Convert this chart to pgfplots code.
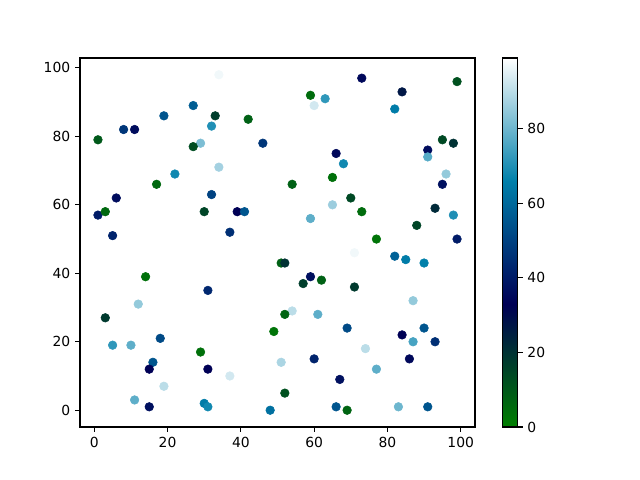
\documentclass[border=0pt]{standalone}
\usepackage{fontspec}
\setmainfont{DejaVu Sans}
\usepackage{pgfplots}
\pgfplotsset{compat=1.18}
\begin{document}
\begin{tikzpicture}
\begin{axis}[
  at={(0,0)}, anchor=south west,
  scale only axis, width=284.4pt, height=265.7pt,
  xmin=-3.9, xmax=103.9, ymin=-4.9, ymax=102.9,
  xtick={0,20,40,60,80,100}, ytick={0,20,40,60,80,100},
  tick align=outside, major tick length=3.5pt,
  xtick pos=bottom, ytick pos=left,
  tick style={black, line width=0.8pt},
  axis line style={line width=0.8pt},
  /pgf/number format/assume math mode=true,
  tick label style={font=\fontsize{10}{12}\selectfont},
  colormap={ocean}{rgb=(0,0.5,0) rgb=(0,0,0.333) rgb=(0,0.5,0.667) rgb=(1,1,1)},
  point meta min=0, point meta max=99,
  colorbar,
  colorbar style={
    at={(parent axis.north east)}, anchor=north west, xshift=11.4pt,
    width=10.8pt,
    ytick={0,20,40,60,80},
    tick align=outside, major tick length=3.5pt,
    ytick pos=right,
    axis line style={line width=0.8pt},
    tick style={black, line width=0.8pt},
    /pgf/number format/assume math mode=true,
    tick label style={font=\fontsize{10}{12}\selectfont},
  },
]
\addplot[scatter, only marks, mark=*, mark size=3.1pt, scatter src=explicit,
  scatter/use mapped color={draw=mapped color, fill=mapped color}]
table[meta=c] {
x y c
34 98 97
73 97 35
99 96 12
84 93 27
59 92 5
63 91 72
60 89 93
82 88 65
27 89 57
19 86 55
33 86 17
42 85 8
32 83 70
8 82 47
11 82 36
46 78 47
29 78 82
27 77 13
1 79 10
95 79 14
98 78 20
66 75 35
91 76 36
91 74 77
68 72 68
34 71 87
96 69 85
22 69 68
65 68 4
17 66 6
54 66 8
95 66 37
6 62 36
32 63 50
70 62 14
93 59 22
65 60 86
1 57 40
3 58 6
30 58 15
39 58 33
41 58 55
73 58 5
98 57 70
59 56 78
5 51 42
37 52 45
88 54 15
99 50 40
77 50 3
71 46 97
82 45 58
85 44 65
90 43 66
51 43 8
52 43 20
14 39 4
59 39 37
62 38 8
57 37 17
71 36 18
31 35 43
87 32 85
12 31 85
54 29 90
52 28 7
61 28 78
3 27 18
49 23 3
69 24 52
90 24 55
84 22 33
18 21 52
87 20 75
93 20 45
5 19 72
10 19 78
74 18 90
29 17 4
51 14 88
16 14 55
60 15 42
86 15 35
15 12 33
31 12 33
77 12 78
37 10 93
67 9 37
19 7 90
52 5 12
11 3 78
30 2 65
31 1 68
15 1 37
48 0 62
66 1 55
69 0 7
83 1 80
91 1 55
};
\end{axis}
\pgfresetboundingbox
\path (-57.6pt,-38.16pt) rectangle (403.2pt,307.44pt);
\end{tikzpicture}
\end{document}
